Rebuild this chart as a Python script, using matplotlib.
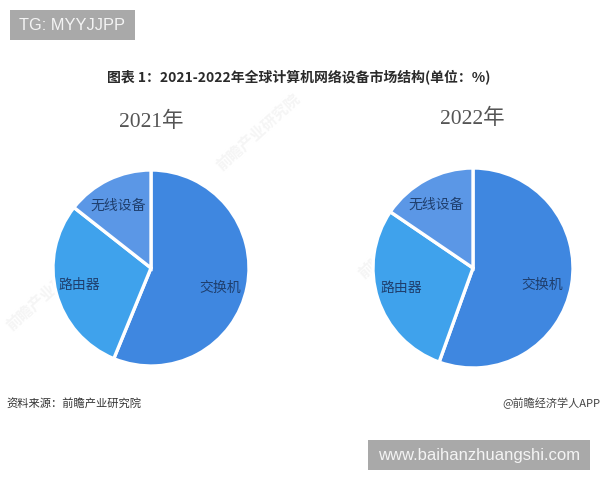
#!/usr/bin/env python3
# -*- coding: utf-8 -*-
import matplotlib
matplotlib.use("Agg")
import matplotlib.pyplot as plt
from matplotlib.patches import Rectangle

plt.rcParams['font.family'] = ['Noto Sans CJK SC', 'DejaVu Sans']

# datos
categories = ["交换机", "路由器", "无线设备"]
values_2021 = [56.2, 29.4, 14.4]
values_2022 = [55.5, 29.0, 15.5]
colors = ["#3f87e0", "#3fa2ec", "#5b97e6"]

title = "图表 1：2021-2022年全球计算机网络设备市场结构(单位：%)"
source = "资料来源：前瞻产业研究院"
credit = "@前瞻经济学人APP"
tag_top = "TG: MYYJJPP"
tag_bottom = "www.baihanzhuangshi.com"
watermark = "前瞻产业研究院"

W, H = 600, 480
fig = plt.figure(figsize=(W / 100, H / 100), dpi=100, facecolor="white")

# capa de fondo en pixeles
bg = fig.add_axes([0, 0, 1, 1])
bg.set_xlim(0, W)
bg.set_ylim(H, 0)
bg.axis("off")


def draw_pie(values, cx, cy, r, label_pos):
    ax = fig.add_axes([(cx - r) / W, 1 - (cy + r) / H, 2 * r / W, 2 * r / H])
    ax.pie(values, colors=colors, startangle=90, counterclock=False, radius=1,
           wedgeprops={"edgecolor": "white", "linewidth": 2.4})
    ax.set_xlim(-1, 1)
    ax.set_ylim(-1, 1)
    ax.patch.set_visible(False)
    # etiquetas en coordenadas de figura
    for name, (x, y) in zip(categories, label_pos):
        fig.text(x / W, 1 - y / H, name, fontsize=10, color="#1f3f6e",
                 ha="center", va="center", zorder=10)


# marcas de agua tenues
for x, y, size in [(258, 132, 11), (400, 240, 11), (48, 292, 11)]:
    bg.text(x, y, watermark, fontsize=size, color="#f5f5f5", rotation=42,
            ha="center", va="center", fontweight="bold")

draw_pie(values_2021, 151, 268, 98,
         [(220, 288), (79, 285), (118, 206)])
draw_pie(values_2022, 473, 268, 100,
         [(542, 285), (401, 288), (436, 205)])

bg.text(299, 77, title, fontsize=10, fontweight="bold", color="#2a2a2a",
        ha="center", va="center")

year_font = ['Liberation Serif', 'Noto Sans CJK SC']
bg.text(151, 122, "2021年", fontsize=15.5, color="#555555", family=year_font,
        ha="center", va="center")
bg.text(472, 119, "2022年", fontsize=15.5, color="#555555", family=year_font,
        ha="center", va="center")

bg.text(6, 403, source, fontsize=8.1, color="#333333", ha="left", va="center")
bg.text(600, 403, credit, fontsize=8, color="#444444", ha="right", va="center")

# etiquetas grises
bg.add_patch(Rectangle((10, 10), 125, 30, facecolor="#a9a9a9", edgecolor="none"))
bg.text(19, 25.5, tag_top, fontsize=11.8, color="#f4f4f4", ha="left", va="center",
        family="Liberation Sans")
bg.add_patch(Rectangle((368, 440), 222, 30, facecolor="#a9a9a9", edgecolor="none"))
bg.text(479, 455.5, tag_bottom, fontsize=12, color="#f4f4f4", ha="center", va="center",
        family="Liberation Sans")

fig.savefig("out.png", dpi=100, facecolor="white")
